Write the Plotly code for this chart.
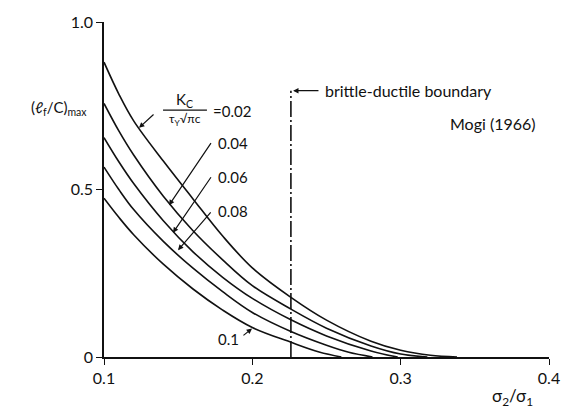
import plotly.graph_objects as go

# ---- data ----
kc_labels = ["0.02", "0.04", "0.06", "0.08", "0.1"]

x_002 = [0.100, 0.110, 0.120, 0.140, 0.160, 0.180, 0.200, 0.226, 0.250, 0.280, 0.300, 0.320, 0.338]
y_002 = [0.880, 0.785, 0.705, 0.585, 0.472, 0.361, 0.266, 0.178, 0.110, 0.047, 0.020, 0.005, 0.000]

x_004 = [0.100, 0.110, 0.120, 0.140, 0.160, 0.180, 0.200, 0.226, 0.250, 0.280, 0.300, 0.318]
y_004 = [0.757, 0.675, 0.603, 0.480, 0.377, 0.290, 0.213, 0.143, 0.086, 0.033, 0.009, 0.000]

x_006 = [0.100, 0.110, 0.120, 0.140, 0.160, 0.180, 0.200, 0.226, 0.250, 0.280, 0.298]
y_006 = [0.655, 0.583, 0.518, 0.407, 0.314, 0.238, 0.175, 0.111, 0.063, 0.018, 0.000]

x_008 = [0.100, 0.110, 0.120, 0.140, 0.160, 0.180, 0.200, 0.226, 0.250, 0.265, 0.281]
y_008 = [0.567, 0.500, 0.440, 0.345, 0.265, 0.195, 0.133, 0.076, 0.035, 0.014, 0.000]

x_010 = [0.100, 0.110, 0.120, 0.140, 0.160, 0.180, 0.200, 0.226, 0.245, 0.260]
y_010 = [0.474, 0.417, 0.365, 0.277, 0.203, 0.140, 0.088, 0.044, 0.015, 0.000]

curves_x = [x_002, x_004, x_006, x_008, x_010]
curves_y = [y_002, y_004, y_006, y_008, y_010]

boundary_x = [0.226, 0.226]
boundary_y = [0.0, 0.795]

x_tickvals = [0.1, 0.2, 0.3, 0.4]
x_ticktext = ["0.1", "0.2", "0.3", "0.4"]
y_tickvals = [0.0, 0.5, 1.0]
y_ticktext = ["0", "0.5", "1.0"]

FONT = "Lato, 'DejaVu Sans', sans-serif"
BLACK = "#111111"

fig = go.Figure()

for cx, cy, lab in zip(curves_x, curves_y, kc_labels):
    fig.add_trace(go.Scatter(x=cx, y=cy, mode="lines", name=lab,
                             line=dict(color=BLACK, width=1.6, shape="spline", smoothing=1.0),
                             showlegend=False, hoverinfo="skip"))

fig.add_trace(go.Scatter(x=boundary_x, y=boundary_y, mode="lines",
                         line=dict(color=BLACK, width=1.6, dash="16px,3px,2px,3px"),
                         showlegend=False, hoverinfo="skip"))

ann = []
# fraction label for Kc/(tau_Y sqrt(pi c)) = 0.02
ann.append(dict(x=0.1546, y=0.766, xref="x", yref="y", text="K<sub>C</sub>",
                xanchor="center", yanchor="middle",
                showarrow=False, font=dict(family=FONT, size=15, color=BLACK)))
ann.append(dict(x=0.1546, y=0.709, xref="x", yref="y", text="τ<sub>Y</sub>√πc",
                xanchor="center", yanchor="middle",
                showarrow=False, font=dict(family=FONT, size=12, color=BLACK)))
ann.append(dict(x=0.1718, y=0.733, xref="x", yref="y", text="=0.02", xanchor="left",
                yanchor="middle",
                showarrow=False, font=dict(family=FONT, size=15, color=BLACK)))
# other labels
for lab, yy in [("0.04", 0.640), ("0.06", 0.538), ("0.08", 0.436)]:
    ann.append(dict(x=0.1755, y=yy, xref="x", yref="y", text=lab, xanchor="left",
                    yanchor="middle",
                    showarrow=False, font=dict(family=FONT, size=15, color=BLACK)))
ann.append(dict(x=0.1925, y=0.053, xref="x", yref="y", text="0.1", xanchor="right",
                yanchor="middle",
                showarrow=False, font=dict(family=FONT, size=15, color=BLACK)))

# leader arrows (tail -> tip)
arrows = [((0.1344, 0.728), (0.1236, 0.684)),
          ((0.1728, 0.643), (0.1438, 0.453)),
          ((0.1728, 0.541), (0.1465, 0.371)),
          ((0.1728, 0.436), (0.1499, 0.319)),
          ((0.1930, 0.061), (0.1998, 0.085)),
          ((0.2456, 0.795), (0.2275, 0.795))]
for (tx, ty), (hx, hy) in arrows:
    ann.append(dict(x=hx, y=hy, ax=tx, ay=ty, xref="x", yref="y", axref="x", ayref="y",
                    text="", showarrow=True, arrowhead=2, arrowsize=0.9, arrowwidth=1.2,
                    arrowcolor=BLACK, standoff=0, startstandoff=0))

ann.append(dict(x=0.2476, y=0.795, xref="x", yref="y", text="brittle-ductile boundary",
                xanchor="left", yanchor="middle", showarrow=False,
                font=dict(family=FONT, size=16, color=BLACK)))
ann.append(dict(x=0.3925, y=0.696, xref="x", yref="y", text="Mogi (1966)",
                xanchor="right", yanchor="middle", showarrow=False,
                font=dict(family=FONT, size=16, color=BLACK)))

# axis titles
ann.append(dict(x=0.3755, y=-0.12, xref="x", yref="paper", text="σ<sub>2</sub>/σ<sub>1</sub>",
                xanchor="center", yanchor="middle",
                showarrow=False, font=dict(family=FONT, size=17, color=BLACK)))
ann.append(dict(x=-0.101, y=0.743, xref="paper", yref="paper", text="(ℓ<sub>f</sub>/C)<sub>max</sub>",
                xanchor="center", yanchor="middle",
                showarrow=False, font=dict(family=FONT, size=15, color=BLACK)))

# fraction bar
shapes = [dict(type="line", xref="x", yref="y", x0=0.1398, x1=0.1694, y0=0.737, y1=0.737,
               line=dict(color=BLACK, width=1.3))]

fig.update_layout(
    width=573, height=411,
    margin=dict(l=104, r=24, t=15, b=54),
    paper_bgcolor="white", plot_bgcolor="white",
    annotations=ann, shapes=shapes,
    xaxis=dict(range=[0.1, 0.4], tickvals=x_tickvals, ticktext=x_ticktext,
               showgrid=False, zeroline=False, showline=True, linecolor=BLACK, linewidth=1.5,
               ticks="outside", ticklen=6, tickcolor=BLACK, tickwidth=1.3,
               tickfont=dict(family=FONT, size=16, color=BLACK)),
    yaxis=dict(range=[0, 1.0], tickvals=y_tickvals, ticktext=y_ticktext,
               showgrid=False, zeroline=False, showline=True, linecolor=BLACK, linewidth=1.5,
               ticks="outside", ticklen=6, tickcolor=BLACK, tickwidth=1.3,
               tickfont=dict(family=FONT, size=16, color=BLACK)),
)

fig.write_html("out.html")
